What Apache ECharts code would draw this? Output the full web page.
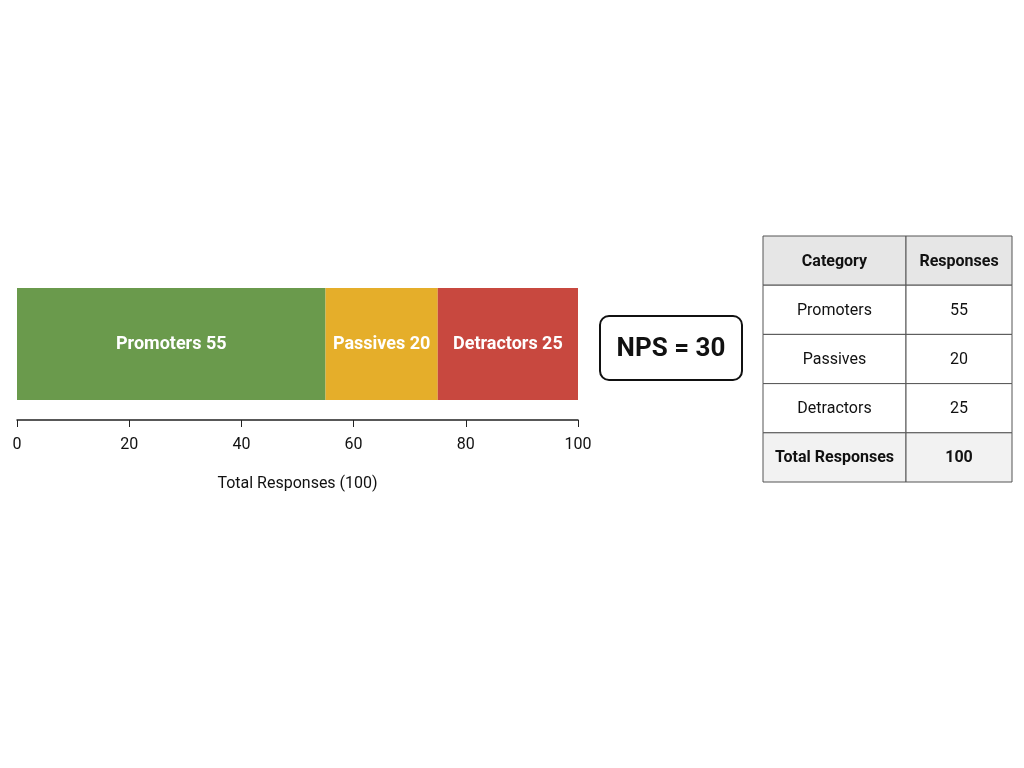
<!DOCTYPE html>
<html>
<head>
<meta charset="utf-8">
<script src="https://cdn.jsdelivr.net/npm/echarts@6/dist/echarts.min.js"></script>
<style>html,body{margin:0;background:#fff}#chart{width:1024px;height:768px}</style>
</head>
<body>
<div id="chart"></div>
<script>
// NPS data
const categories = ['Promoters', 'Passives', 'Detractors'];
const responses = [55, 20, 25];
const colors = ['#6a9a4c', '#e5ae2a', '#c8483f'];
const xTicks = [0, 20, 40, 60, 80, 100];
const total = responses.reduce((a, b) => a + b, 0);
const nps = responses[0] - responses[2];

const chart = echarts.init(document.getElementById('chart'));

// table built with graphic elements
const tableRows = [['Category', 'Responses']]
  .concat(categories.map((c, i) => [c, String(responses[i])]))
  .concat([['Total Responses', String(total)]]);
const tx = 763, ty = 236, rowH = 49.2, c1 = 143, c2 = 106;
const tableEls = [];
tableRows.forEach((r, i) => {
  const head = i === 0, last = i === tableRows.length - 1;
  const fill = head ? '#e6e6e6' : (last ? '#f2f2f2' : '#fff');
  const y = ty + i * rowH;
  [[tx, c1, r[0]], [tx + c1, c2, r[1]]].forEach(([x, w, t]) => {
    tableEls.push({ type: 'rect', shape: { x, y, width: w, height: rowH },
      style: { fill, stroke: '#555', lineWidth: 1 } });
    tableEls.push({ type: 'text', x: x + w / 2, y: y + rowH / 2 + 1,
      style: { text: t, align: 'center', verticalAlign: 'middle',
        font: (head || last ? 'bold ' : '') + '16px Roboto', fill: '#111' } });
  });
});

const option = {
  animation: false,
  grid: { left: 17, top: 288, width: 561, height: 112 },
  xAxis: {
    type: 'value', min: 0, max: 100, interval: 20, offset: 20,
    axisLine: { show: true, lineStyle: { color: '#222', width: 1.5 } },
    axisTick: { show: true, length: 7, lineStyle: { color: '#222' } },
    axisLabel: { color: '#111', fontSize: 16, fontFamily: 'Roboto', margin: 17,
      formatter: v => xTicks.includes(v) ? v : '' },
    splitLine: { show: false },
    name: 'Total Responses (' + total + ')', nameLocation: 'middle', nameGap: 56,
    nameTextStyle: { color: '#111', fontSize: 16, fontFamily: 'Roboto' }
  },
  yAxis: { type: 'category', data: ['NPS'], show: false },
  series: categories.map((c, i) => ({
    name: c, type: 'bar', stack: 'all', barWidth: '100%',
    data: [responses[i]],
    itemStyle: { color: colors[i] },
    label: { show: true, position: 'inside', formatter: c + ' ' + responses[i],
      color: '#fff', fontSize: 18, fontWeight: 'bold', fontFamily: 'Roboto' }
  })),
  graphic: [
    { type: 'rect', shape: { x: 600, y: 316, width: 142, height: 64, r: 9 },
      style: { fill: '#fff', stroke: '#111', lineWidth: 2 } },
    { type: 'text', x: 671, y: 349,
      style: { text: 'NPS = ' + nps, align: 'center', verticalAlign: 'middle',
        font: 'bold 26px Roboto', fill: '#111' } }
  ].concat(tableEls)
};
chart.setOption(option);
</script>
</body>
</html>
